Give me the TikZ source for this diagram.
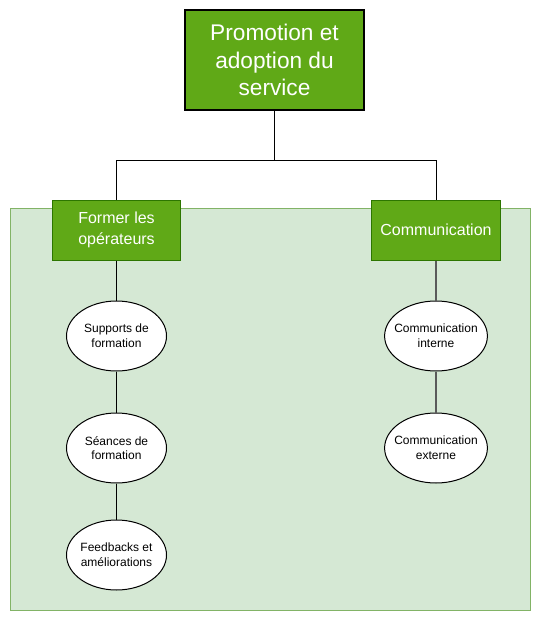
\documentclass[tikz,border=0pt]{standalone}
\usepackage{fontspec}
\setmainfont{Liberation Sans}
\usetikzlibrary{shapes.geometric,calc}
\definecolor{dgreen}{HTML}{60A917}
\definecolor{dgreenline}{HTML}{2D7600}
\definecolor{bgfill}{HTML}{D5E8D4}
\definecolor{bgline}{HTML}{82B366}
\definecolor{greyline}{HTML}{5A5A5A}
\begin{document}
\begin{tikzpicture}[x=0.75pt,y=-0.75pt,
  topbox/.style={draw=black, line width=0.9pt, fill=dgreen, text=white, inner sep=0pt,
    minimum width=134.25pt, minimum height=75pt, align=center,
    font=\fontsize{17}{20.5}\selectfont},
  subbox/.style={draw=dgreenline, line width=0.75pt, fill=dgreen, text=white, inner sep=0pt,
    minimum width=96.5pt, minimum height=45pt, align=center,
    font=\fontsize{12}{15.5}\selectfont},
  leaf/.style={ellipse, draw=black, line width=0.75pt, fill=white, inner ysep=0pt, inner xsep=-4pt,
    minimum width=75pt, minimum height=52.5pt, align=center,
    font=\fontsize{9}{11}\selectfont},
  link/.style={draw=black, line width=0.75pt},
  glink/.style={draw=greyline, line width=0.9pt}]
\useasboundingbox (0,0) rectangle (542,621);
\fill[bgfill, draw=bgline, line width=0.75pt] (10,208) rectangle (530,610);

\node[topbox] (top) at (274.5,60) {Promotion et\\adoption du\\service};
\node[subbox] (fl) at (116.5,230) {Former les\\opérateurs};
\node[subbox] (co) at (436,230) {Communication};

\node[leaf] (s1) at (116.5,336) {Supports de\\formation};
\node[leaf] (s2) at (116.5,448) {Séances de\\formation};
\node[leaf] (s3) at (116.5,555) {Feedbacks et\\améliorations};
\node[leaf] (c1) at (436,336) {Communication\\interne};
\node[leaf] (c2) at (436,448) {Communication\\externe};

\coordinate (hub) at ($(top.south)+(0,50)$);
\draw[link] (top.south) -- (hub) -| (fl.north);
\draw[link] (hub) -| (co.north);
\draw[link] (fl) -- (s1);
\draw[link] (s1) -- (s2);
\draw[link] (s2) -- (s3);
\draw[glink] (co) -- (c1);
\draw[glink] (c1) -- (c2);
\end{tikzpicture}
\end{document}
